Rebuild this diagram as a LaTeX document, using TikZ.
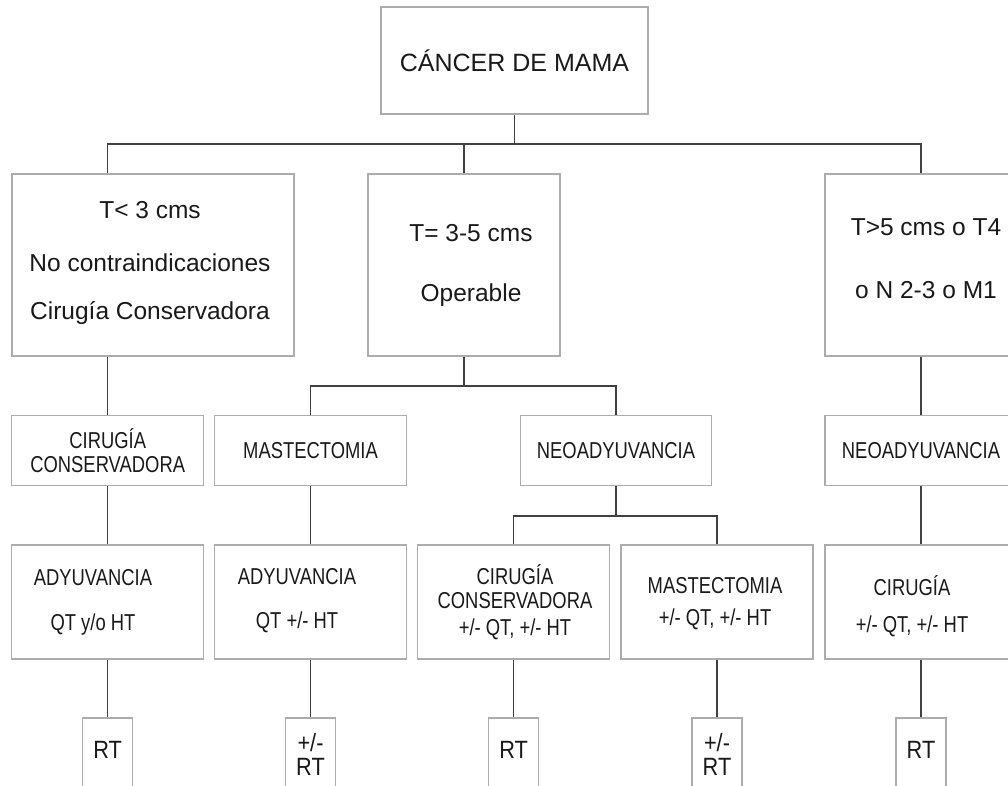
\documentclass[tikz,border=0pt]{standalone}
\usepackage{fontspec}
\setmainfont{Liberation Sans}
\newfontfamily\narrowsans[FakeStretch=0.8]{Liberation Sans}
\newfontfamily\rtsans[FakeStretch=0.87]{Liberation Sans}
\begin{document}
\begin{tikzpicture}[x=1pt,y=-1pt,
	caja/.style={draw=gray!65,line width=1.4pt,inner sep=0pt},
	linea/.style={draw=black!75,line width=1.2pt},
	grande/.style={text=black!90,align=center,font=\fontsize{24.5}{28}\selectfont},
	chico/.style={text=black!90,align=center,font=\narrowsans\fontsize{23}{24}\selectfont},
	rt/.style={text=black!90,align=center,font=\rtsans\fontsize{25}{24}\selectfont}]
	\useasboundingbox (0,0) rectangle (1008,786);
	\clip (0,0) rectangle (1008,786);
	% raiz
	\node[caja,minimum width=267,minimum height=107,grande,font=\fontsize{25}{28}\selectfont] (raiz) at (514.5,60.5) {CÁNCER DE MAMA};
	% nivel 1
	\node[caja,minimum width=282,minimum height=182] (t1) at (153,265) {};
	\node[caja,minimum width=192,minimum height=182] (t2) at (464,265) {};
	\node[caja,minimum width=192,minimum height=182] (t3) at (921,265) {};
	\node[grande] (t1txt) at (150,262.5) {T< 3 cms\\[25pt]No contraindicaciones\\[20pt]Cirugía Conservadora};
	\node[grande] (t2txt) at (471,265) {T= 3-5 cms\\[32pt]Operable};
	\node[grande] (t3txt) at (926,258.5) {T>5 cms o T4\\[35pt]o N 2-3 o M1};
	% nivel 2
	\node[caja,minimum width=192,minimum height=70,chico] (n1) at (107.7,450.7) {CIRUGÍA\\CONSERVADORA};
	\node[caja,minimum width=192,minimum height=70,chico] (n2) at (310.5,450.7) {MASTECTOMIA};
	\node[caja,minimum width=191,minimum height=70,chico] (n3) at (616,450.7) {NEOADYUVANCIA};
	\node[caja,minimum width=192,minimum height=70,chico] (n4) at (921,450.7) {NEOADYUVANCIA};
	% nivel 3 y 4
	\foreach \i/\x in {1/107.7,2/310.5,3/513.6,4/717,5/921}{
		\node[caja,minimum width=192,minimum height=114] (a\i) at (\x,602) {};
		\node[caja,minimum width=50,minimum height=78] (r\i) at (\x,757) {};
		\draw[linea] (a\i.south) -- (r\i.north);
	}
	\node[chico] (a1txt) at (93,602.5) {ADYUVANCIA\\[21pt]QT y/o HT};
	\node[chico] (a2txt) at (297,601) {ADYUVANCIA\\[20pt]QT +/- HT};
	\node[chico] (a3txt) at (515,602) {CIRUGÍA\\CONSERVADORA\\[3pt]+/- QT, +/- HT};
	\node[chico] (a4txt) at (715,604) {MASTECTOMIA\\[8pt]+/- QT, +/- HT};
	\node[chico] (a5txt) at (912,606.5) {CIRUGÍA\\[13pt]+/- QT, +/- HT};
	\node[rt] (r1txt) at (107.7,750) {RT};
	\node[rt] (r2txt) at (310.5,754) {+/-\\RT};
	\node[rt] (r3txt) at (513.6,750) {RT};
	\node[rt] (r4txt) at (717,754) {+/-\\RT};
	\node[rt] (r5txt) at (921,750) {RT};
	% conectores
	\coordinate (j1) at (514,144);
	\coordinate (j2) at (464,386);
	\coordinate (j3) at (616,516);
	\draw[linea] (raiz.south) -- (raiz.south |- j1);
	\draw[linea] (t1.north -| n1) |- (t3.north |- j1) -- (t3.north);
	\draw[linea] (t2.north) -- (t2.north |- j1);
	\draw[linea] (t1.south -| n1) -- (n1.north);
	\draw[linea] (t3.south) -- (n4.north);
	\draw[linea] (t2.south) -- (j2);
	\draw[linea] (n2.north) |- (j2) -| (n3.north);
	\draw[linea] (n3.south) -- (j3);
	\draw[linea] (a3.north) |- (j3) -| (a4.north);
	\draw[linea] (n1.south) -- (a1.north);
	\draw[linea] (n2.south) -- (a2.north);
	\draw[linea] (n4.south) -- (a5.north);
\end{tikzpicture}
\end{document}
